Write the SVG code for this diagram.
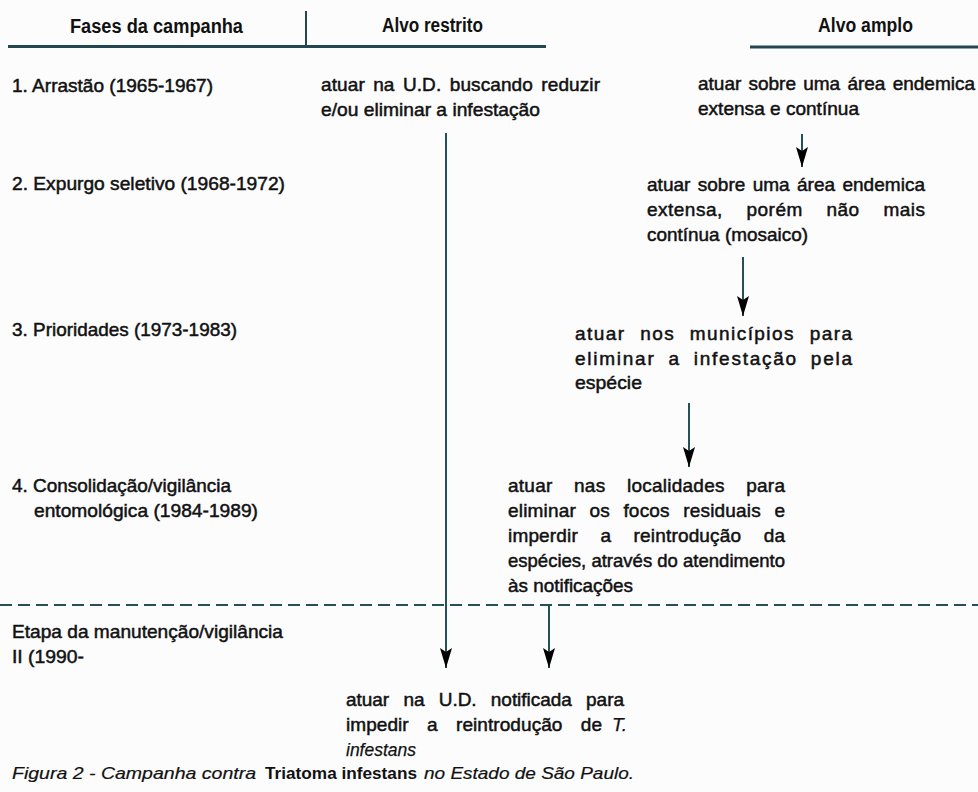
<svg xmlns="http://www.w3.org/2000/svg" width="978" height="792" viewBox="0 0 978 792">
<defs>
<style>
text{font-family:"Liberation Sans",Arial,sans-serif;font-size:19px;fill:#111;stroke:#111;stroke-width:0.5}
.h{font-size:20px;font-weight:bold;stroke-width:0}
.it{font-style:italic;stroke-width:0.25}
.cap{font-size:17px;stroke-width:0.2}
.b{font-weight:bold;font-style:normal;stroke-width:0}
.rule{stroke:#24464f;stroke-width:3;fill:none}
.conn{stroke:#24505a;stroke-width:2;fill:none}
.dash{stroke:#24505a;stroke-width:2;stroke-dasharray:12 6;fill:none}
</style>
<marker id="ah" viewBox="0 -6 20 12" refX="20" refY="0" markerWidth="20" markerHeight="12" markerUnits="userSpaceOnUse" orient="auto">
<path d="M0,-6 L20,0 L0,6 L4,0 Z" fill="#000"/>
</marker>
</defs>
<rect width="978" height="792" fill="#fcfcfd"/>

<g id="header">
<line class="rule" x1="8" y1="46.5" x2="546" y2="46.5"/>
<line class="rule" x1="306" y1="11" x2="306" y2="46" style="stroke-width:2"/>
<line class="rule" x1="750" y1="47" x2="978" y2="47"/>
<text class="h" x="70" y="33" textLength="173" lengthAdjust="spacingAndGlyphs">Fases da campanha</text>
<text class="h" x="382" y="32" textLength="101" lengthAdjust="spacingAndGlyphs">Alvo restrito</text>
<text class="h" x="818" y="32" textLength="95" lengthAdjust="spacingAndGlyphs">Alvo amplo</text>
</g>

<g id="phase1"><text x="12" y="92" textLength="201" lengthAdjust="spacingAndGlyphs">1. Arrastão (1965-1967)</text></g>
<g id="phase2"><text x="12" y="190" textLength="273" lengthAdjust="spacingAndGlyphs">2. Expurgo seletivo (1968-1972)</text></g>
<g id="phase3"><text x="12" y="336" textLength="225" lengthAdjust="spacingAndGlyphs">3. Prioridades (1973-1983)</text></g>
<g id="phase4">
<text x="12" y="492" textLength="219" lengthAdjust="spacingAndGlyphs">4. Consolidação/vigilância</text>
<text x="34" y="517" textLength="224" lengthAdjust="spacingAndGlyphs">entomológica (1984-1989)</text>
</g>
<g id="phase5">
<text x="12" y="638" textLength="271" lengthAdjust="spacingAndGlyphs">Etapa da manutenção/vigilância</text>
<text x="12" y="663" textLength="72" lengthAdjust="spacingAndGlyphs">II (1990-</text>
</g>

<g id="restrito1">
<text x="321" y="91" textLength="279" lengthAdjust="spacing" word-spacing="3">atuar na U.D. buscando reduzir</text>
<text x="321" y="116" textLength="219" lengthAdjust="spacingAndGlyphs">e/ou eliminar a infestação</text>
</g>

<g id="amplo1">
<text x="698" y="90" textLength="277" lengthAdjust="spacing" word-spacing="2">atuar sobre uma área endemica</text>
<text x="698" y="115" textLength="161" lengthAdjust="spacingAndGlyphs">extensa e contínua</text>
</g>
<g id="amplo2">
<text x="647" y="191" textLength="278" lengthAdjust="spacing" word-spacing="2">atuar sobre uma área endemica</text>
<text x="647" y="216" textLength="278" lengthAdjust="spacing" word-spacing="18">extensa, porém não mais</text>
<text x="647" y="241" textLength="161" lengthAdjust="spacingAndGlyphs">contínua (mosaico)</text>
</g>
<g id="amplo3">
<text x="575" y="340" textLength="277" lengthAdjust="spacing" word-spacing="8">atuar nos municípios para</text>
<text x="575" y="365" textLength="277" lengthAdjust="spacing" word-spacing="6">eliminar a infestação pela</text>
<text x="575" y="389" textLength="67" lengthAdjust="spacingAndGlyphs">espécie</text>
</g>
<g id="amplo4">
<text x="508" y="492" textLength="277" lengthAdjust="spacing" word-spacing="16">atuar nas localidades para</text>
<text x="508" y="517" textLength="277" lengthAdjust="spacing" word-spacing="8">eliminar os focos residuais e</text>
<text x="508" y="542" textLength="277" lengthAdjust="spacing" word-spacing="17">imperdir a reintrodução da</text>
<text x="508" y="567" textLength="277" lengthAdjust="spacingAndGlyphs">espécies, através do atendimento</text>
<text x="508" y="592" textLength="125" lengthAdjust="spacingAndGlyphs">às notificações</text>
</g>

<g id="manutencao">
<text x="346" y="706" textLength="278" lengthAdjust="spacing" word-spacing="9">atuar na U.D. notificada para</text>
<text x="346" y="731"><tspan textLength="256" lengthAdjust="spacing" word-spacing="13">impedir a reintrodução de</tspan><tspan class="it" x="612">T.</tspan></text>
<text class="it" x="346" y="756" textLength="70" lengthAdjust="spacingAndGlyphs">infestans</text>
</g>

<g id="connectors">
<line class="dash" x1="0" y1="605" x2="978" y2="605"/>
<line class="conn" x1="446" y1="133" x2="446" y2="668" marker-end="url(#ah)"/>
<line class="conn" x1="802" y1="134" x2="802" y2="167" marker-end="url(#ah)"/>
<line class="conn" x1="743" y1="257" x2="743" y2="316" marker-end="url(#ah)"/>
<line class="conn" x1="689" y1="403" x2="689" y2="467" marker-end="url(#ah)"/>
<line class="conn" x1="549" y1="606" x2="549" y2="668" marker-end="url(#ah)"/>
</g>

<g id="caption">
<text class="cap it" y="779"><tspan x="12" textLength="244" lengthAdjust="spacingAndGlyphs">Figura 2 - Campanha contra</tspan><tspan class="b" x="265" textLength="152" lengthAdjust="spacingAndGlyphs">Triatoma infestans</tspan><tspan x="424" textLength="210" lengthAdjust="spacingAndGlyphs">no Estado de São Paulo.</tspan></text>
</g>
</svg>
